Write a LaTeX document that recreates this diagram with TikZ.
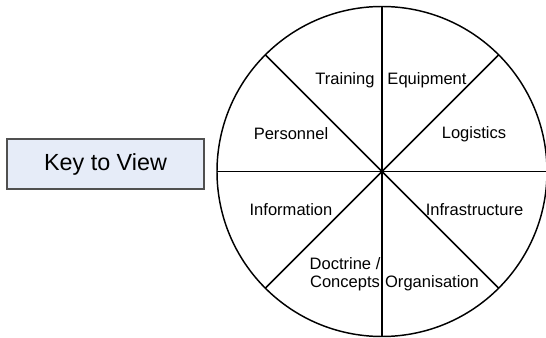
\documentclass[tikz,border=0pt]{standalone}
\usepackage{fontspec}
\setmainfont{Liberation Sans}
\definecolor{keyfill}{HTML}{E6ECF8}
\definecolor{keyline}{HTML}{505050}

\begin{document}
\begin{tikzpicture}[x=0.75pt,y=-0.75pt,
	lbl/.style={font=\fontsize{12.4}{13.6}\selectfont, inner sep=0pt, align=center}]
	\useasboundingbox (0,0) rectangle (546,338);

	% key box
	\node[draw=keyline, fill=keyfill, line width=0.8pt, minimum width=147.75pt, minimum height=37.5pt,
		font=\fontsize{17.5}{20}\selectfont] (key) at (105.5,164) {Key to View};

	% view wheel
	\coordinate (hub) at (382,171.5);
	\draw[line width=1.1pt] (hub) circle (123.75pt);
	\foreach \a in {0,45,...,315}
		\draw[line width=1.1pt] (hub) -- ++(\a:123.75pt);

	% segment labels
	\node[lbl] (training) at (345,80) {Training};
	\node[lbl] (equipment) at (427,80) {Equipment};
	\node[lbl] (personnel) at (291,134) {Personnel};
	\node[lbl] (logistics) at (474,134) {Logistics};
	\node[lbl] (information) at (291,210) {Information};
	\node[lbl] (infrastructure) at (474.5,210) {Infrastructure};
	\node[lbl] (doctrine) at (345,274) {Doctrine /\\Concepts};
	\node[lbl] (organisation) at (432,283) {Organisation};

\end{tikzpicture}
\end{document}
